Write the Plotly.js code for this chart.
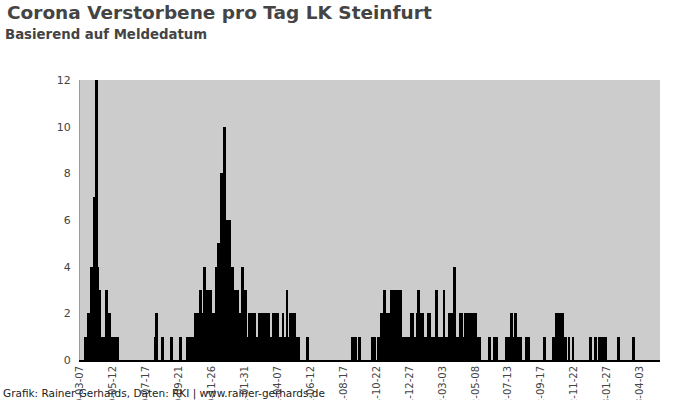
<!DOCTYPE html>
<html>
<head>
<meta charset="utf-8">
<script src="https://cdn.plot.ly/plotly-3.0.1.min.js"></script>
<style>html,body{margin:0;padding:0;background:#fff}#chart{width:700px;height:400px}</style>
</head>
<body>
<div id="chart"></div>
<script>
// Day offsets (days since 2020-03-07) of report days with deaths, and the deaths on those days
const startDate = '2020-03-07';
const dayOffset = [
  11,13,15,17,19,21,23,25,26,28,30,31,33,34,36,37,39,40,42,44,45,47,49,51,53,55,57,58,60,62,64,66,68,70,72,73,75,
  151,153,165,183,201,216,218,220,222,224,226,228,230,
  232,234,236,238,240,242,244,246,248,250,252,254,256,258,259,261,263,266,268,270,273,275,277,279,281,283,286,289,291,
  294,296,297,299,301,304,306,308,310,312,314,316,318,320,323,326,328,332,334,336,339,342,345,348,350,352,354,357,
  360,363,366,369,372,375,378,380,382,385,387,390,393,396,399,401,404,407,410,412,415,418,421,424,427,430,433,436,438,456,
  546,549,552,560,585,588,590,598,601,604,607,610,613,616,619,622,624,627,630,633,636,639,642,645,648,651,655,658,661,
  664,666,669,672,675,678,681,684,686,689,692,695,698,700,703,706,709,711,714,717,720,723,726,729,732,735,738,741,744,
  747,751,754,756,759,762,765,768,772,775,778,781,784,787,790,793,796,798,801,821,830,834,854,858,861,864,867,870,873,
  876,879,883,895,899,930,949,952,955,958,961,964,967,970,973,980,988,1023,1033,1041,1044,1047,1050,1054,1079,1109
];
const deaths = [
  1,1,1,2,2,2,4,4,3,7,4,4,12,4,4,2,3,1,1,1,1,1,1,1,3,1,1,2,2,1,1,1,1,1,1,1,1,
  1,2,1,1,1,1,1,1,1,1,1,1,1,
  2,1,2,1,2,3,2,1,2,4,2,1,3,2,2,3,1,2,2,1,4,3,5,4,4,8,4,10,4,
  6,3,6,6,3,4,4,2,1,3,3,3,1,2,1,4,2,3,1,1,2,2,2,2,2,1,1,1,
  2,2,2,2,2,2,2,1,1,1,2,2,2,2,1,1,1,2,1,1,3,1,2,2,2,2,1,1,1,1,
  1,1,1,1,1,1,1,1,1,2,2,3,2,2,2,2,3,3,3,3,3,2,3,1,1,1,1,1,1,
  2,2,1,1,2,3,2,2,2,1,1,1,2,2,1,1,1,1,3,1,1,1,1,3,1,1,1,2,2,
  1,4,1,1,1,2,2,1,2,2,2,2,2,2,2,2,1,1,1,1,1,1,1,1,1,2,1,1,2,
  1,1,1,1,1,1,1,1,2,2,2,2,2,1,1,1,1,1,1,1,1,1,1,1,1,1
];
const tickLabels = ['2020-03-07','2020-05-12','2020-07-17','2020-09-21','2020-11-26','2021-01-31',
  '2021-04-07','2021-06-12','2021-08-17','2021-10-22','2021-12-27','2022-03-03','2022-05-08',
  '2022-07-13','2022-09-17','2022-11-22','2023-01-27','2023-04-03'];
const yTicks = [0,2,4,6,8,10,12];

const DAY = 86400000;
const base = Date.parse(startDate + 'T00:00:00Z');
const dates = dayOffset.map(d => new Date(base + d * DAY).toISOString().slice(0,10));

const trace = {
  type: 'bar', x: dates, y: deaths,
  width: dates.map(() => 5.4 * DAY),
  marker: {color: '#000000', line: {width: 0}},
  hoverinfo: 'x+y'
};

const font = 'DejaVu Sans, sans-serif';
const layout = {
  width: 700, height: 400,
  margin: {l: 80, r: 40, t: 80, b: 40, pad: 0},
  paper_bgcolor: '#ffffff', plot_bgcolor: '#cccccc',
  showlegend: false, bargap: 0,
  font: {family: font, color: '#444444'},
  xaxis: {
    type: 'date', range: ['2020-03-07', '2023-05-13 02:00'],
    tickmode: 'array', tickvals: tickLabels, ticktext: tickLabels,
    tickangle: -90, tickfont: {size: 10, color: '#444444', family: font},
    showgrid: false, zeroline: false, automargin: false,
    showline: true, linecolor: '#000000', linewidth: 2,
    ticks: ''
  },
  yaxis: {
    range: [0, 12], tickmode: 'array', tickvals: yTicks,
    tickfont: {size: 11, color: '#444444', family: font},
    showgrid: false, zeroline: false, automargin: false,
    showline: true, linecolor: '#999999', linewidth: 1,
    ticks: 'outside', ticklen: 6, tickcolor: 'rgba(0,0,0,0)'
  },
  annotations: [
    {text: '<b>Corona Verstorbene pro Tag LK Steinfurt</b>', xref: 'paper', yref: 'paper',
     x: (5 - 80) / 580, y: (360 - 13) / 280, xanchor: 'left', yanchor: 'middle', showarrow: false,
     font: {family: font, size: 18.5, color: '#444444'}},
    {text: '<b>Basierend auf Meldedatum</b>', xref: 'paper', yref: 'paper',
     x: (3 - 80) / 580, y: (360 - 35) / 280, xanchor: 'left', yanchor: 'middle', showarrow: false,
     font: {family: font, size: 13.3, color: '#444444'}},
    {text: 'Grafik: Rainer Gerhards, Daten: RKI | www.rainer-gerhards.de', xref: 'paper', yref: 'paper',
     x: (1 - 80) / 580, y: (360 - 393) / 280, xanchor: 'left', yanchor: 'middle', showarrow: false,
     font: {family: font, size: 10.5, color: '#222222'}}
  ]
};

Plotly.newPlot('chart', [trace], layout, {displayModeBar: false, staticPlot: true});
</script>
</body>
</html>
